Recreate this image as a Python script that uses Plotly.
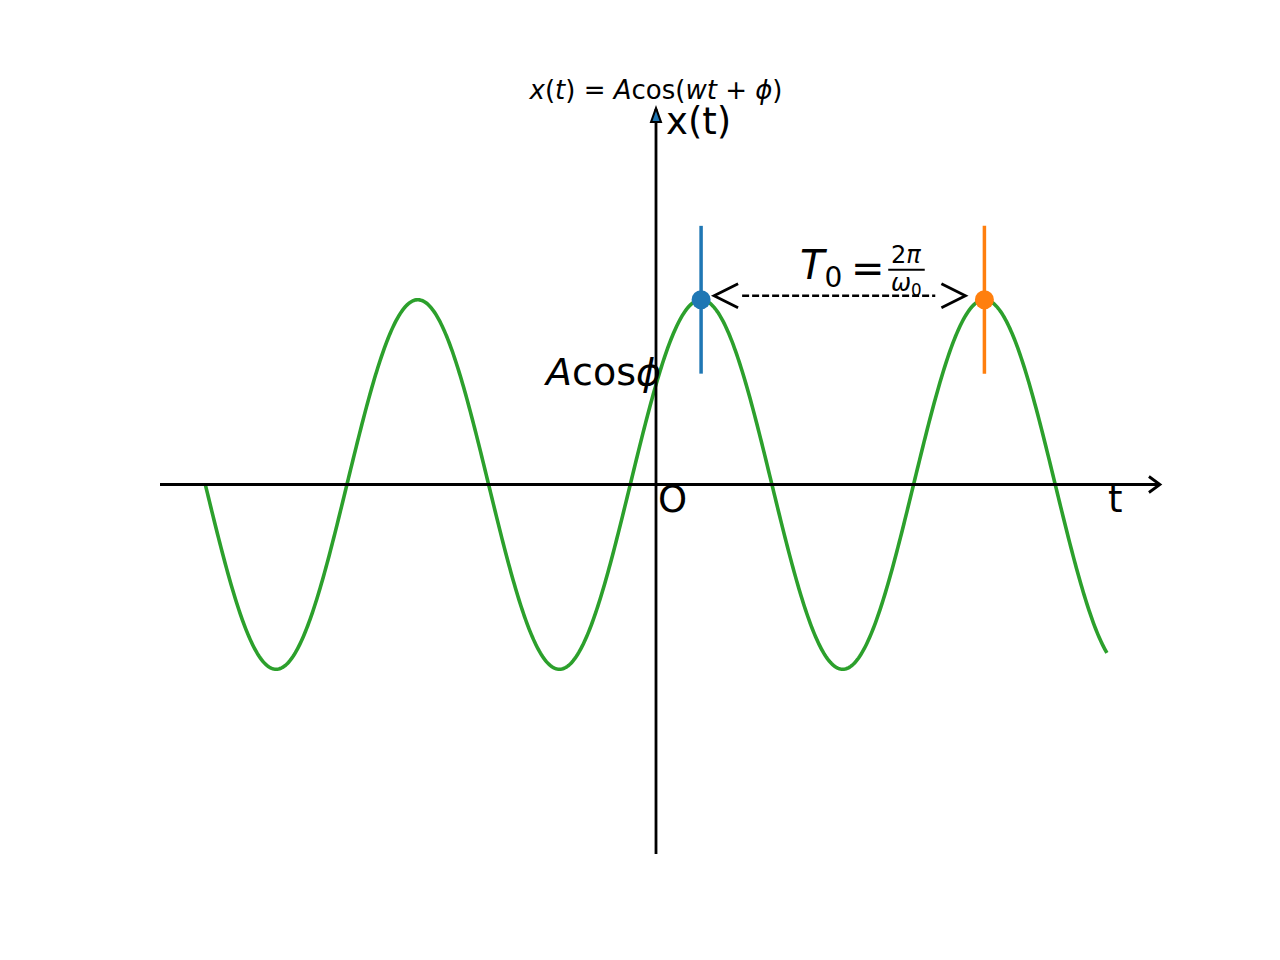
import numpy as np
import plotly.graph_objects as go

# ---- data / parameters of the plotted signal x(t) = A cos(w t + phi) ----
A = 1.0
omega = 1.0
phi = -1.0
t_range = [-10.0, 10.0]
n_samples = 800

# marked peaks (one period apart) and the vertical marker span
t_peak1 = -phi / omega
t_peak2 = t_peak1 + 2 * np.pi / omega
peak_t = [t_peak1, t_peak2]
peak_x = [A, A]
marker_span = [0.6, 1.4]

x_range = [-11, 11]
y_range = [-2, 2]

t = np.linspace(t_range[0], t_range[1], n_samples)
x = A * np.cos(omega * t + phi)

GREEN = "#2ca02c"
BLUE = "#1f77b4"
ORANGE = "#ff7f0e"
FONT = "DejaVu Sans"

fig = go.Figure()

# vertical marker lines
for tp, col in zip(peak_t, [BLUE, ORANGE]):
    fig.add_trace(go.Scatter(x=[tp, tp], y=marker_span, mode="lines",
                             line=dict(color=col, width=3.5), hoverinfo="skip"))

# curve
fig.add_trace(go.Scatter(x=t, y=x, mode="lines",
                         line=dict(color=GREEN, width=3.6, simplify=False)))

# peak points
for tp, xp, col in zip(peak_t, peak_x, [BLUE, ORANGE]):
    fig.add_trace(go.Scatter(x=[tp], y=[xp], mode="markers",
                             marker=dict(color=col, size=19, line=dict(width=0))))

shapes = []
# axes spines through the origin
shapes.append(dict(type="line", xref="paper", yref="y", x0=0, x1=1.008, y0=0, y1=0,
                   line=dict(color="black", width=2.8)))
shapes.append(dict(type="line", xref="x", yref="paper", x0=0, x1=0, y0=0, y1=1.008,
                   line=dict(color="black", width=2.8)))
# right arrow head (open)
shapes.append(dict(type="path", xref="paper", yref="y", xsizemode="pixel", ysizemode="pixel",
                   xanchor=1.008, yanchor=0, path="M -11,8 L 0,0 L -11,-8",
                   line=dict(color="black", width=2.8)))
# top arrow head (filled)
shapes.append(dict(type="path", xref="x", yref="paper", xsizemode="pixel", ysizemode="pixel",
                   xanchor=0, yanchor=1.008, path="M -5,-13 L 0,1 L 5,-13 Z",
                   fillcolor=BLUE, line=dict(color="black", width=2)))

# period arrow "<----->"
shapes.append(dict(type="line", xref="x", yref="y",
                   x0=peak_t[0] + 0.91, x1=peak_t[1] - 1.09,
                   y0=peak_x[0] + 0.022, y1=peak_x[0] + 0.022,
                   line=dict(color="black", width=2.5, dash="7px,3px")))
shapes.append(dict(type="path", xref="x", yref="y", xsizemode="pixel", ysizemode="pixel",
                   xanchor=peak_t[0], yanchor=peak_x[0],
                   path="M 37,16 L 13,4 L 37,-8", line=dict(color="black", width=2.8)))
shapes.append(dict(type="path", xref="x", yref="y", xsizemode="pixel", ysizemode="pixel",
                   xanchor=peak_t[1], yanchor=peak_x[1],
                   path="M -43,16 L -19,4 L -43,-8", line=dict(color="black", width=2.8)))
# fraction bar
shapes.append(dict(type="line", xref="x", yref="y", x0=5.15, x1=5.96, y0=1.162, y1=1.162,
                   line=dict(color="black", width=2)))

annotations = [
    dict(x=0.177, y=1.963, text="x(t)", xanchor="left", yanchor="middle",
         font=dict(size=37, family=FONT, color="black")),
    dict(x=0.0, y=-0.08, text="O", xanchor="left", yanchor="middle",
         font=dict(size=37, family=FONT, color="black")),
    dict(x=10.18, y=-0.08, text="t", xanchor="center", yanchor="middle",
         font=dict(size=37, family=FONT, color="black")),
    dict(x=-2.55, y=0.61, text="<i>A</i>cos<i>ϕ</i>", xanchor="left", yanchor="middle",
         font=dict(size=38, family=FONT, color="black")),
    dict(x=3.15, y=1.17, text="<i>T</i><sub>0</sub>", xanchor="left", yanchor="middle",
         font=dict(size=40, family=FONT, color="black")),
    dict(x=4.70, y=1.17, text="=", xanchor="center", yanchor="middle",
         font=dict(size=40, family=FONT, color="black")),
    dict(x=5.55, y=1.24, text="2<i>π</i>", xanchor="center", yanchor="middle",
         font=dict(size=24, family=FONT, color="black")),
    dict(x=5.55, y=1.085, text="<i>ω</i><sub>0</sub>", xanchor="center", yanchor="middle",
         font=dict(size=24, family=FONT, color="black")),
]
for a in annotations:
    a["showarrow"] = False
    a["xref"] = "x"
    a["yref"] = "y"

# the page places the figure 8px from the top-left corner; compensate
fig.update_layout(
    width=1272, height=952,
    margin=dict(l=152, r=128, t=107, b=106),
    paper_bgcolor="white", plot_bgcolor="white",
    showlegend=False,
    title=dict(text="<i>x</i>(<i>t</i>) = <i>A</i>cos(<i>wt</i> + <i>ϕ</i>)",
               x=0.5, xref="paper", y=1 - 82 / 952, yref="container",
               xanchor="center", yanchor="middle",
               font=dict(size=26, family=FONT, color="black")),
    xaxis=dict(range=x_range, visible=False, showgrid=False, zeroline=False),
    yaxis=dict(range=y_range, visible=False, showgrid=False, zeroline=False),
    shapes=shapes,
    annotations=annotations,
)

fig.write_html("out.html")
